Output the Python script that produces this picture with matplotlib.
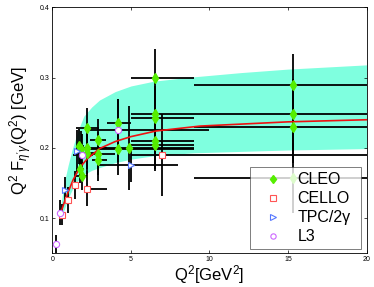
import numpy as np
import matplotlib
matplotlib.use('Agg')
import matplotlib.pyplot as plt

plt.rcParams['font.family'] = ['Liberation Sans', 'DejaVu Sans']
plt.rcParams['mathtext.fontset'] = 'custom'
plt.rcParams['mathtext.rm'] = 'Liberation Sans'
plt.rcParams['mathtext.it'] = 'Liberation Sans:italic'

# CLEO points: x, y, x-bin edges, y error
cleo_x = [1.7, 1.85, 1.75, 1.9, 2.2, 2.2, 2.2, 2.9, 2.9, 2.9, 4.15, 4.15, 4.9,
          6.55, 6.55, 6.55, 6.55, 6.55, 15.3, 15.3, 15.3, 15.3]
cleo_y = [0.202, 0.199, 0.170, 0.160, 0.228, 0.200, 0.193, 0.211, 0.192, 0.183,
          0.235, 0.198, 0.200, 0.300, 0.248, 0.243, 0.210, 0.204, 0.289, 0.248,
          0.229, 0.157]
cleo_xlo = [1.5, 1.5, 1.5, 1.5, 1.5, 2.0, 1.5, 2.4, 2.0, 2.5, 3.5, 3.0, 3.0,
            5.0, 5.0, 5.0, 5.0, 5.0, 9.0, 9.0, 9.0, 9.0]
cleo_xhi = [2.0, 3.0, 2.0, 2.2, 3.0, 3.5, 3.0, 3.4, 4.0, 3.5, 5.0, 9.0, 9.0,
            9.0, 9.0, 9.0, 9.0, 9.0, 20.0, 20.0, 20.0, 20.0]
cleo_dy = [0.025, 0.025, 0.02, 0.02, 0.028, 0.03, 0.03, 0.03, 0.03, 0.03,
           0.035, 0.037, 0.06, 0.041, 0.04, 0.04, 0.04, 0.037, 0.044, 0.05,
           0.05, 0.05]

# bar without visible marker
extra_x = [12.5]
extra_y = [0.190]
extra_xlo = [5.0]
extra_xhi = [20.0]

cello_x = [0.64, 1.02, 1.44, 2.23, 7.0]
cello_y = [0.105, 0.126, 0.147, 0.142, 0.190]
cello_xlo = [0.64, 1.02, 1.44, 2.23, 7.0]
cello_xhi = [0.64, 1.02, 1.44, 3.45, 7.0]
cello_dy = [0.015, 0.018, 0.02, 0.025, 0.058]

tpc_x = [0.8, 1.6, 5.0]
tpc_y = [0.140, 0.196, 0.176]
tpc_xlo = [0.8, 1.4, 3.0]
tpc_xhi = [0.8, 1.8, 8.0]
tpc_dy = [0.018, 0.03, 0.025]

l3_x = [0.23, 0.49, 1.9, 4.15]
l3_y = [0.063, 0.108, 0.190, 0.225]
l3_xlo = [0.23, 0.49, 1.3, 2.4]
l3_xhi = [0.23, 0.49, 2.6, 10.0]
l3_dy = [0.013, 0.018, 0.03, 0.045]

# theory band and central curve
band_x = [0.5, 0.6, 0.75, 1.0, 1.25, 1.5, 1.75, 2.0, 2.5, 3.0, 4.0, 5.0,
          6.5, 9.0, 12.0, 15.0, 20.0]
band_hi = [0.110, 0.128, 0.150, 0.175, 0.197, 0.215, 0.231, 0.245, 0.258,
           0.268, 0.280, 0.288, 0.295, 0.301, 0.307, 0.312, 0.318]
band_lo = [0.100, 0.104, 0.112, 0.128, 0.140, 0.150, 0.157, 0.162, 0.168,
           0.172, 0.179, 0.184, 0.189, 0.193, 0.195, 0.197, 0.199]

curve_x = [0.5, 0.75, 1.0, 1.33, 1.75, 2.2, 3.0, 4.0, 5.0, 6.6, 9.4, 15.0, 20.0]
curve_y = [0.105, 0.122, 0.137, 0.155, 0.172, 0.184, 0.199, 0.209, 0.216,
           0.224, 0.231, 0.237, 0.240]


def bars(ax, x, y, xlo, xhi, dy=None):
    x = np.array(x)
    xerr = [x - np.array(xlo), np.array(xhi) - x]
    ax.errorbar(x, y, xerr=xerr, yerr=dy, fmt='none', ecolor='k',
                elinewidth=1.3, capsize=0, zorder=2)


fig = plt.figure(figsize=(3.74, 2.87), dpi=100)
ax = fig.add_axes([0.140, 0.117, 0.840, 0.858])

ax.fill_between(band_x, band_lo, band_hi, color='#7fffdf', lw=0, zorder=1)

bars(ax, cleo_x, cleo_y, cleo_xlo, cleo_xhi, cleo_dy)
bars(ax, extra_x, extra_y, extra_xlo, extra_xhi)
bars(ax, cello_x, cello_y, cello_xlo, cello_xhi, cello_dy)
bars(ax, tpc_x, tpc_y, tpc_xlo, tpc_xhi, tpc_dy)
bars(ax, l3_x, l3_y, l3_xlo, l3_xhi, l3_dy)

ax.plot(curve_x, curve_y, color='#ee1111', lw=1.2, zorder=3)

ax.plot(cleo_x, cleo_y, 'd', ms=5, mfc='#55ee00', mec='#55ee00', ls='none',
        label='CLEO', zorder=4)
ax.plot(cello_x, cello_y, 's', ms=4.3, mfc='white', mec='#ff5555', mew=0.8,
        ls='none', label='CELLO', zorder=4)
ax.plot(tpc_x, tpc_y, '>', ms=4.5, mfc='white', mec='#5577ff', mew=0.8,
        ls='none', label='TPC/2γ', zorder=4)
ax.plot(l3_x, l3_y, 'o', ms=4.5, mfc='white', mec='#cc66ff', mew=0.8,
        ls='none', label='L3', zorder=4)

ax.set_xlim(0, 20)
ax.set_ylim(0.05, 0.4)
ax.set_xticks([0, 5, 10, 15, 20])
ax.set_yticks([0.1, 0.2, 0.3, 0.4])
ax.tick_params(direction='in', top=True, right=True, labelsize=5, length=2.5,
               width=0.5, pad=2)
for s in ax.spines.values():
    s.set_linewidth(0.6)

ax.set_xlabel(r'Q$^2$[GeV$^2$]', fontsize=12, labelpad=0)
ax.set_ylabel(r"Q$^2$ F$_{\eta'\gamma}$(Q$^2$) [GeV]", fontsize=12, labelpad=4)

leg = ax.legend(loc='lower left', bbox_to_anchor=(0.629, 0.018, 0.355, 0.332),
                mode='expand', fontsize=11.5, frameon=True, fancybox=False,
                edgecolor='#444444', handlelength=2.25, handletextpad=0.44,
                borderaxespad=0, labelspacing=0.25, borderpad=0.3,
                markerscale=0.85)
leg.get_frame().set_linewidth(0.6)
leg.set_zorder(10)

fig.savefig('out.png', dpi=100)
